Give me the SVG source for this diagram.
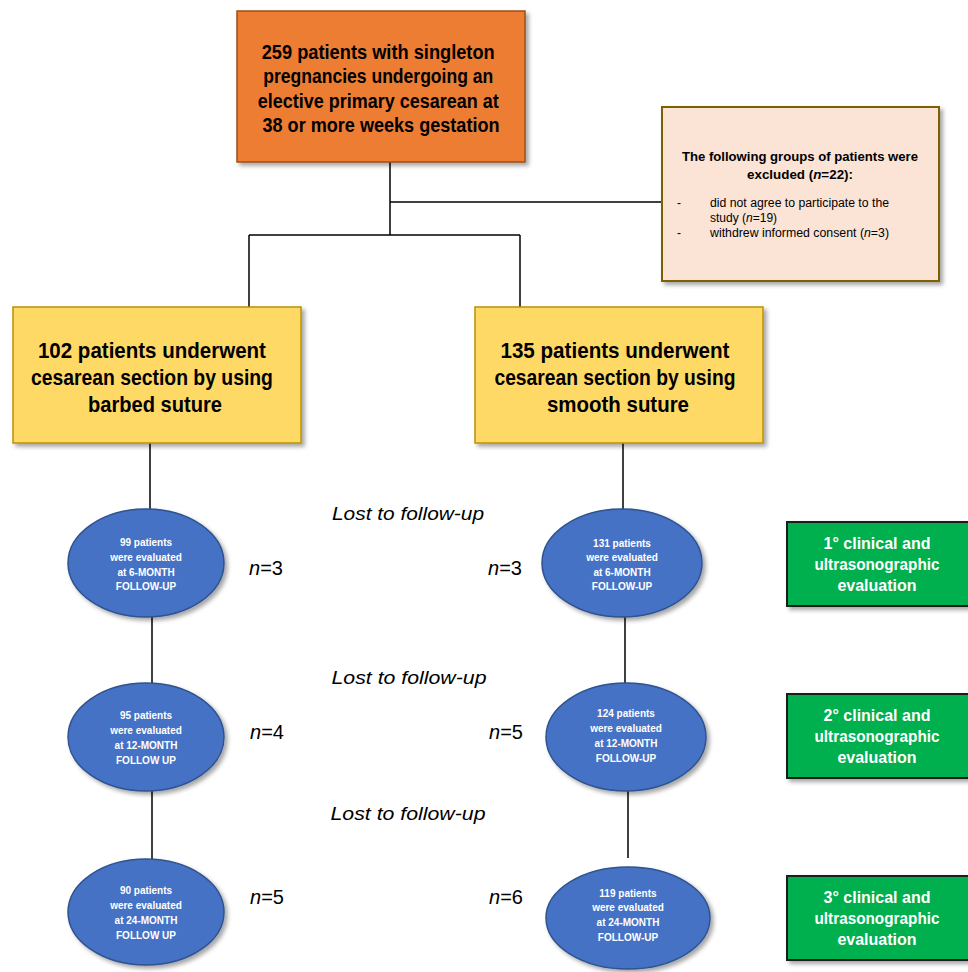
<svg xmlns="http://www.w3.org/2000/svg" width="968" height="972" viewBox="0 0 968 972">
<defs>
<filter id="sh" x="-10%" y="-10%" width="130%" height="130%">
<feDropShadow dx="3" dy="3" stdDeviation="2" flood-color="#000" flood-opacity="0.35"/>
</filter>
<style>
.t{font-family:"Liberation Sans",Arial,sans-serif;}
.b{font-weight:bold;}
.ctr{text-anchor:middle;}
.orange{fill:#ED7D31;stroke:#9C4F1A;stroke-width:1.5;}
.excl{fill:#FBE3D6;stroke:#7F6000;stroke-width:2;}
.yellow{fill:#FFD966;stroke:#BF9000;stroke-width:1.5;}
.ell{fill:#4472C4;stroke:#2F528F;stroke-width:1.5;}
.green{fill:#00B050;stroke:#1A1A1A;stroke-width:2;}
.et{font-family:"Liberation Sans",Arial,sans-serif;font-weight:bold;font-size:10px;fill:#fff;text-anchor:middle;}
.gt{font-family:"Liberation Sans",Arial,sans-serif;font-weight:bold;font-size:16px;fill:#fff;text-anchor:middle;}
.lost{font-family:"Liberation Sans",Arial,sans-serif;font-style:italic;font-size:19px;fill:#000;text-anchor:middle;}
.n{font-family:"Liberation Sans",Arial,sans-serif;font-size:20px;fill:#000;}
.conn line{stroke:#000;stroke-width:1.5;}
</style>
</defs>
<rect width="968" height="972" fill="#fff"/>

<g id="connectors" class="conn">
<line x1="390" y1="162" x2="390" y2="235"/>
<line x1="390" y1="202" x2="662" y2="202"/>
<line x1="249" y1="235" x2="520" y2="235"/>
<line x1="249" y1="235" x2="249" y2="307"/>
<line x1="520" y1="235" x2="520" y2="307"/>
<line x1="150" y1="443" x2="150" y2="510"/>
<line x1="623" y1="443" x2="623" y2="509"/>
<line x1="152" y1="617" x2="152" y2="683"/>
<line x1="625" y1="617" x2="625" y2="683"/>
<line x1="152" y1="790" x2="152" y2="859"/>
<line x1="628" y1="791" x2="628" y2="858"/>
</g>

<g id="start">
<rect class="orange" x="237" y="11" width="288" height="151" filter="url(#sh)"/>
<text class="t b ctr" font-size="20" x="381">
<tspan x="381" y="59" textLength="233" lengthAdjust="spacingAndGlyphs">259 patients with singleton</tspan>
<tspan x="381" y="83" textLength="230" lengthAdjust="spacingAndGlyphs">pregnancies undergoing an</tspan>
<tspan x="381" y="108" textLength="241" lengthAdjust="spacingAndGlyphs">elective primary cesarean at</tspan>
<tspan x="381" y="132" textLength="237" lengthAdjust="spacingAndGlyphs">38 or more weeks gestation</tspan>
</text>
</g>

<g id="excluded">
<rect class="excl" x="662" y="107" width="277" height="174" filter="url(#sh)"/>
<text class="t b ctr" font-size="13" x="800" y="161" textLength="236" lengthAdjust="spacingAndGlyphs">The following groups of patients were</text>
<text class="t b ctr" font-size="13" x="800" y="179" textLength="106" lengthAdjust="spacingAndGlyphs">excluded (<tspan font-style="italic">n</tspan>=22):</text>
<text class="t" font-size="12" x="677" y="207">-</text>
<text class="t" font-size="12" x="710" y="207" textLength="179" lengthAdjust="spacingAndGlyphs">did not agree to participate to the</text>
<text class="t" font-size="12" x="710" y="222">study (<tspan font-style="italic">n</tspan>=19)</text>
<text class="t" font-size="12" x="677" y="237">-</text>
<text class="t" font-size="12" x="710" y="237" textLength="179" lengthAdjust="spacingAndGlyphs">withdrew informed consent (<tspan font-style="italic">n</tspan>=3)</text>
</g>

<g id="barbed">
<rect class="yellow" x="13" y="307" width="288" height="136" filter="url(#sh)"/>
<text class="t b ctr" font-size="22">
<tspan x="155" y="358" textLength="228" lengthAdjust="spacingAndGlyphs">102 patients underwent</tspan>
<tspan x="155" y="385" textLength="242" lengthAdjust="spacingAndGlyphs">cesarean section by using</tspan>
<tspan x="155" y="412" textLength="134" lengthAdjust="spacingAndGlyphs">barbed suture</tspan>
</text>
</g>

<g id="smooth">
<rect class="yellow" x="475" y="307" width="288" height="136" filter="url(#sh)"/>
<text class="t b ctr" font-size="22">
<tspan x="618" y="358" textLength="229" lengthAdjust="spacingAndGlyphs">135 patients underwent</tspan>
<tspan x="618" y="385" textLength="241" lengthAdjust="spacingAndGlyphs">cesarean section by using</tspan>
<tspan x="618" y="412" textLength="142" lengthAdjust="spacingAndGlyphs">smooth suture</tspan>
</text>
</g>

<g id="left6">
<ellipse class="ell" cx="146" cy="563" rx="78" ry="54" filter="url(#sh)"/>
<text class="et"><tspan x="146" y="546">99 patients</tspan><tspan x="146" y="561">were evaluated</tspan><tspan x="146" y="576">at 6-MONTH</tspan><tspan x="146" y="590">FOLLOW-UP</tspan></text>
</g>
<g id="right6">
<ellipse class="ell" cx="622" cy="563" rx="80" ry="54" filter="url(#sh)"/>
<text class="et"><tspan x="622" y="547">131 patients</tspan><tspan x="622" y="561">were evaluated</tspan><tspan x="622" y="576">at 6-MONTH</tspan><tspan x="622" y="590">FOLLOW-UP</tspan></text>
</g>
<g id="left12">
<ellipse class="ell" cx="146" cy="737" rx="78" ry="54" filter="url(#sh)"/>
<text class="et"><tspan x="146" y="719">95 patients</tspan><tspan x="146" y="734">were evaluated</tspan><tspan x="146" y="749">at 12-MONTH</tspan><tspan x="146" y="764">FOLLOW UP</tspan></text>
</g>
<g id="right12">
<ellipse class="ell" cx="626" cy="737" rx="80" ry="54" filter="url(#sh)"/>
<text class="et"><tspan x="626" y="717">124 patients</tspan><tspan x="626" y="732">were evaluated</tspan><tspan x="626" y="747">at 12-MONTH</tspan><tspan x="626" y="762">FOLLOW-UP</tspan></text>
</g>
<g id="left24">
<ellipse class="ell" cx="146" cy="912" rx="78" ry="53" filter="url(#sh)"/>
<text class="et"><tspan x="146" y="894">90 patients</tspan><tspan x="146" y="909">were evaluated</tspan><tspan x="146" y="924">at 24-MONTH</tspan><tspan x="146" y="939">FOLLOW UP</tspan></text>
</g>
<g id="right24">
<ellipse class="ell" cx="628" cy="918" rx="82" ry="51" filter="url(#sh)"/>
<text class="et"><tspan x="628" y="897">119 patients</tspan><tspan x="628" y="911">were evaluated</tspan><tspan x="628" y="926">at 24-MONTH</tspan><tspan x="628" y="941">FOLLOW-UP</tspan></text>
</g>

<g id="lost-labels">
<text class="lost" x="408" y="520" textLength="152" lengthAdjust="spacingAndGlyphs">Lost to follow-up</text>
<text class="lost" x="409" y="684" textLength="155" lengthAdjust="spacingAndGlyphs">Lost to follow-up</text>
<text class="lost" x="408" y="820" textLength="155" lengthAdjust="spacingAndGlyphs">Lost to follow-up</text>
<text class="n" x="249" y="575"><tspan font-style="italic">n</tspan>=3</text>
<text class="n" x="488" y="575"><tspan font-style="italic">n</tspan>=3</text>
<text class="n" x="250" y="739"><tspan font-style="italic">n</tspan>=4</text>
<text class="n" x="489" y="739"><tspan font-style="italic">n</tspan>=5</text>
<text class="n" x="250" y="904"><tspan font-style="italic">n</tspan>=5</text>
<text class="n" x="489" y="904"><tspan font-style="italic">n</tspan>=6</text>
</g>

<g id="eval1">
<rect class="green" x="787" y="522" width="200" height="84" filter="url(#sh)"/>
<text class="gt"><tspan x="877" y="549">1° clinical and</tspan><tspan x="877" y="570" textLength="125" lengthAdjust="spacingAndGlyphs">ultrasonographic</tspan><tspan x="877" y="591">evaluation</tspan></text>
</g>
<g id="eval2">
<rect class="green" x="787" y="694" width="200" height="84" filter="url(#sh)"/>
<text class="gt"><tspan x="877" y="721">2° clinical and</tspan><tspan x="877" y="742" textLength="125" lengthAdjust="spacingAndGlyphs">ultrasonographic</tspan><tspan x="877" y="763">evaluation</tspan></text>
</g>
<g id="eval3">
<rect class="green" x="787" y="876" width="200" height="84" filter="url(#sh)"/>
<text class="gt"><tspan x="877" y="903">3° clinical and</tspan><tspan x="877" y="924" textLength="125" lengthAdjust="spacingAndGlyphs">ultrasonographic</tspan><tspan x="877" y="945">evaluation</tspan></text>
</g>
</svg>
